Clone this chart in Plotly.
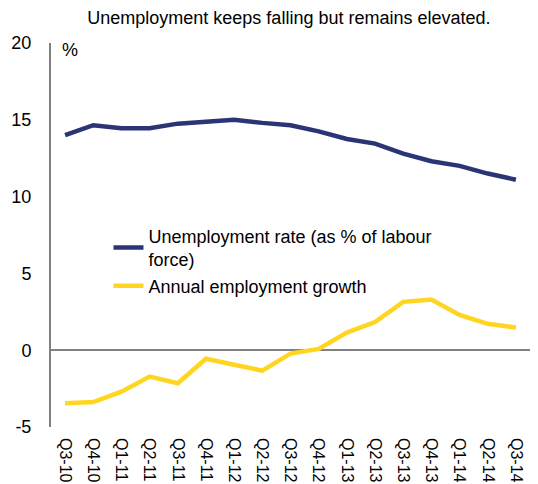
import plotly.graph_objects as go

quarters = ["Q3-10", "Q4-10", "Q1-11", "Q2-11", "Q3-11", "Q4-11", "Q1-12", "Q2-12",
            "Q3-12", "Q4-12", "Q1-13", "Q2-13", "Q3-13", "Q4-13", "Q1-14", "Q2-14", "Q3-14"]
unemployment_rate = [14.0, 14.65, 14.45, 14.45, 14.75, 14.9, 15.0, 14.8,
                     14.65, 14.25, 13.75, 13.45, 12.8, 12.3, 12.0, 11.5, 11.1]
employment_growth = [-3.46, -3.38, -2.70, -1.72, -2.15, -0.56, -0.95, -1.33,
                     -0.22, 0.08, 1.15, 1.83, 3.15, 3.3, 2.3, 1.72, 1.48]
y_tick_values = [-5, 0, 5, 10, 15, 20]
y_tick_labels = ["-5", "0", "5", "10", "15", "20"]

NAVY = "#2B3576"
YELLOW = "#FFD520"
GRAY = "#808080"
FONT = "Liberation Sans, Arial, sans-serif"

fig = go.Figure()
fig.add_trace(go.Scatter(x=quarters, y=unemployment_rate, mode="lines",
                         name="Unemployment rate (as % of labour<br>force)",
                         line=dict(color=NAVY, width=4.5)))
fig.add_trace(go.Scatter(x=quarters, y=employment_growth, mode="lines",
                         name="Annual employment growth",
                         line=dict(color=YELLOW, width=4.5)))

fig.update_layout(
    width=538, height=484,
    margin=dict(l=51, r=8, t=43, b=57, autoexpand=False),
    paper_bgcolor="white", plot_bgcolor="white",
    font=dict(family=FONT, size=18, color="black"),
    title=dict(text="Unemployment keeps falling but remains elevated.",
               x=0.537, xanchor="center", y=0.963, yanchor="middle",
               font=dict(size=18, color="black")),
    showlegend=True,
    legend=dict(x=0.12, y=0.545, xanchor="left", yanchor="top",
                bgcolor="rgba(0,0,0,0)", font=dict(size=18),
                tracegroupgap=0, itemwidth=30),
    annotations=[dict(text="%", xref="paper", yref="paper", x=0.018, y=1.012,
                      xanchor="left", yanchor="top", showarrow=False,
                      font=dict(size=18))],
)
fig.update_xaxes(type="category", range=[-0.5, len(quarters) - 0.5],
                 automargin=False,
                 showline=False, showgrid=False, zeroline=False,
                 tickangle=90, ticks="", ticklabelstandoff=10,
                 tickfont=dict(size=16))
fig.update_yaxes(range=[-5, 20], tickvals=y_tick_values, ticktext=y_tick_labels,
                 showgrid=False, zeroline=True, automargin=False,
                 zerolinecolor=GRAY, zerolinewidth=2, showline=True,
                 linecolor=GRAY, linewidth=2, ticks="", ticklabelstandoff=14,
                 tickfont=dict(size=18))

fig.write_html("out.html")
